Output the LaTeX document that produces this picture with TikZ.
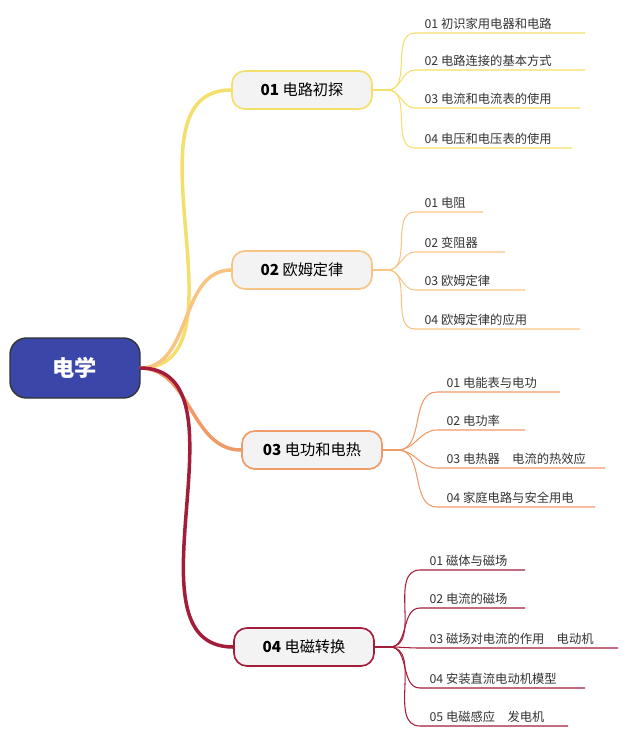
\documentclass[tikz,border=0pt]{standalone}
\usepackage{fontspec}
\setmainfont{Noto Sans CJK SC}
\usetikzlibrary{positioning}
\definecolor{rootblue}{HTML}{3A47A8}
\definecolor{cA}{HTML}{F3DF6C}
\definecolor{cB}{HTML}{F8C483}
\definecolor{cC}{HTML}{F09A68}
\definecolor{cD}{HTML}{A31D3A}
\definecolor{topicfill}{HTML}{F3F3F3}
\tikzset{
  root/.style={draw=black!80, line width=1.2pt, fill=rootblue, rounded corners=14pt,
    minimum width=130*0.03cm, minimum height=60*0.03cm, text=white, font=\bfseries\fontsize{19}{20}\selectfont},
  topic/.style={draw=#1, line width=1.4pt, fill=topicfill, rounded corners=11pt,
    minimum width=140*0.03cm, minimum height=38*0.03cm, font=\fontsize{13}{14}\selectfont},
  leaf/.style={anchor=south west, inner xsep=8pt, inner ysep=3pt, font=\fontsize{10.5}{11}\selectfont, text=black!80},
  branch/.style={line width=3pt, #1},
  twig/.style={line width=0.9pt, #1}
}
\begin{document}
\begin{tikzpicture}[x=0.03cm, y=-0.03cm]
    \useasboundingbox (0,0) rectangle (627,743);

    \node [root] (xue) at (75,368) {电学};
    \coordinate (hub) at (140,368);

    \node [topic=cA] (t1) at (302,90) {\textbf{01} 电路初探};
    \node [topic=cB] (t2) at (302,270) {\textbf{02} 欧姆定律};
    \node [topic=cC] (t3) at (312,450) {\textbf{03} 电功和电热};
    \node [topic=cD] (t4) at (304,647) {\textbf{04} 电磁转换};

    \draw [branch=cA] (hub) to[out=0, in=180] (t1.west);
    \draw [branch=cB] (hub) to[out=0, in=180] (t2.west);
    \draw [branch=cC] (hub) to[out=0, in=180] (t3.west);
    \draw [branch=cD] (hub) to[out=0, in=180] (t4.west);

    % leaves: y of line / end x / text
    \foreach \y/\e/\t [count=\i] in {33/585/01 初识家用电器和电路, 70/585/02 电路连接的基本方式,
        108/580/03 电流和电流表的使用, 148/572/04 电压和电压表的使用} {
      \node [leaf] (a\i) at (415,\y) {\t};
      \draw [twig=cA] (t1.east) -- ++(15,0) to[out=0, in=180] (a\i.south west) -- (\e,\y);
    }
    \foreach \y/\e/\t [count=\i] in {212/483/01 电阻, 252/505/02 变阻器,
        290/525/03 欧姆定律, 329/580/04 欧姆定律的应用} {
      \node [leaf] (b\i) at (415,\y) {\t};
      \draw [twig=cB] (t2.east) -- ++(15,0) to[out=0, in=180] (b\i.south west) -- (\e,\y);
    }
    \foreach \y/\e/\t [count=\i] in {392/560/01 电能表与电功, 430/525/02 电功率,
        468/605/03 电热器\quad 电流的热效应, 507/595/04 家庭电路与安全用电} {
      \node [leaf] (c\i) at (437,\y) {\t};
      \draw [twig=cC] (t3.east) -- ++(15,0) to[out=0, in=180] (c\i.south west) -- (\e,\y);
    }
    \foreach \y/\e/\t [count=\i] in {570/525/01 磁体与磁场, 608/525/02 电流的磁场,
        648/618/03 磁场对电流的作用\quad 电动机, 688/585/04 安装直流电动机模型, 726/568/05 电磁感应\quad 发电机} {
      \node [leaf] (d\i) at (420,\y) {\t};
      \draw [twig=cD] (t4.east) -- ++(15,0) to[out=0, in=180] (d\i.south west) -- (\e,\y);
    }
\end{tikzpicture}
\end{document}
